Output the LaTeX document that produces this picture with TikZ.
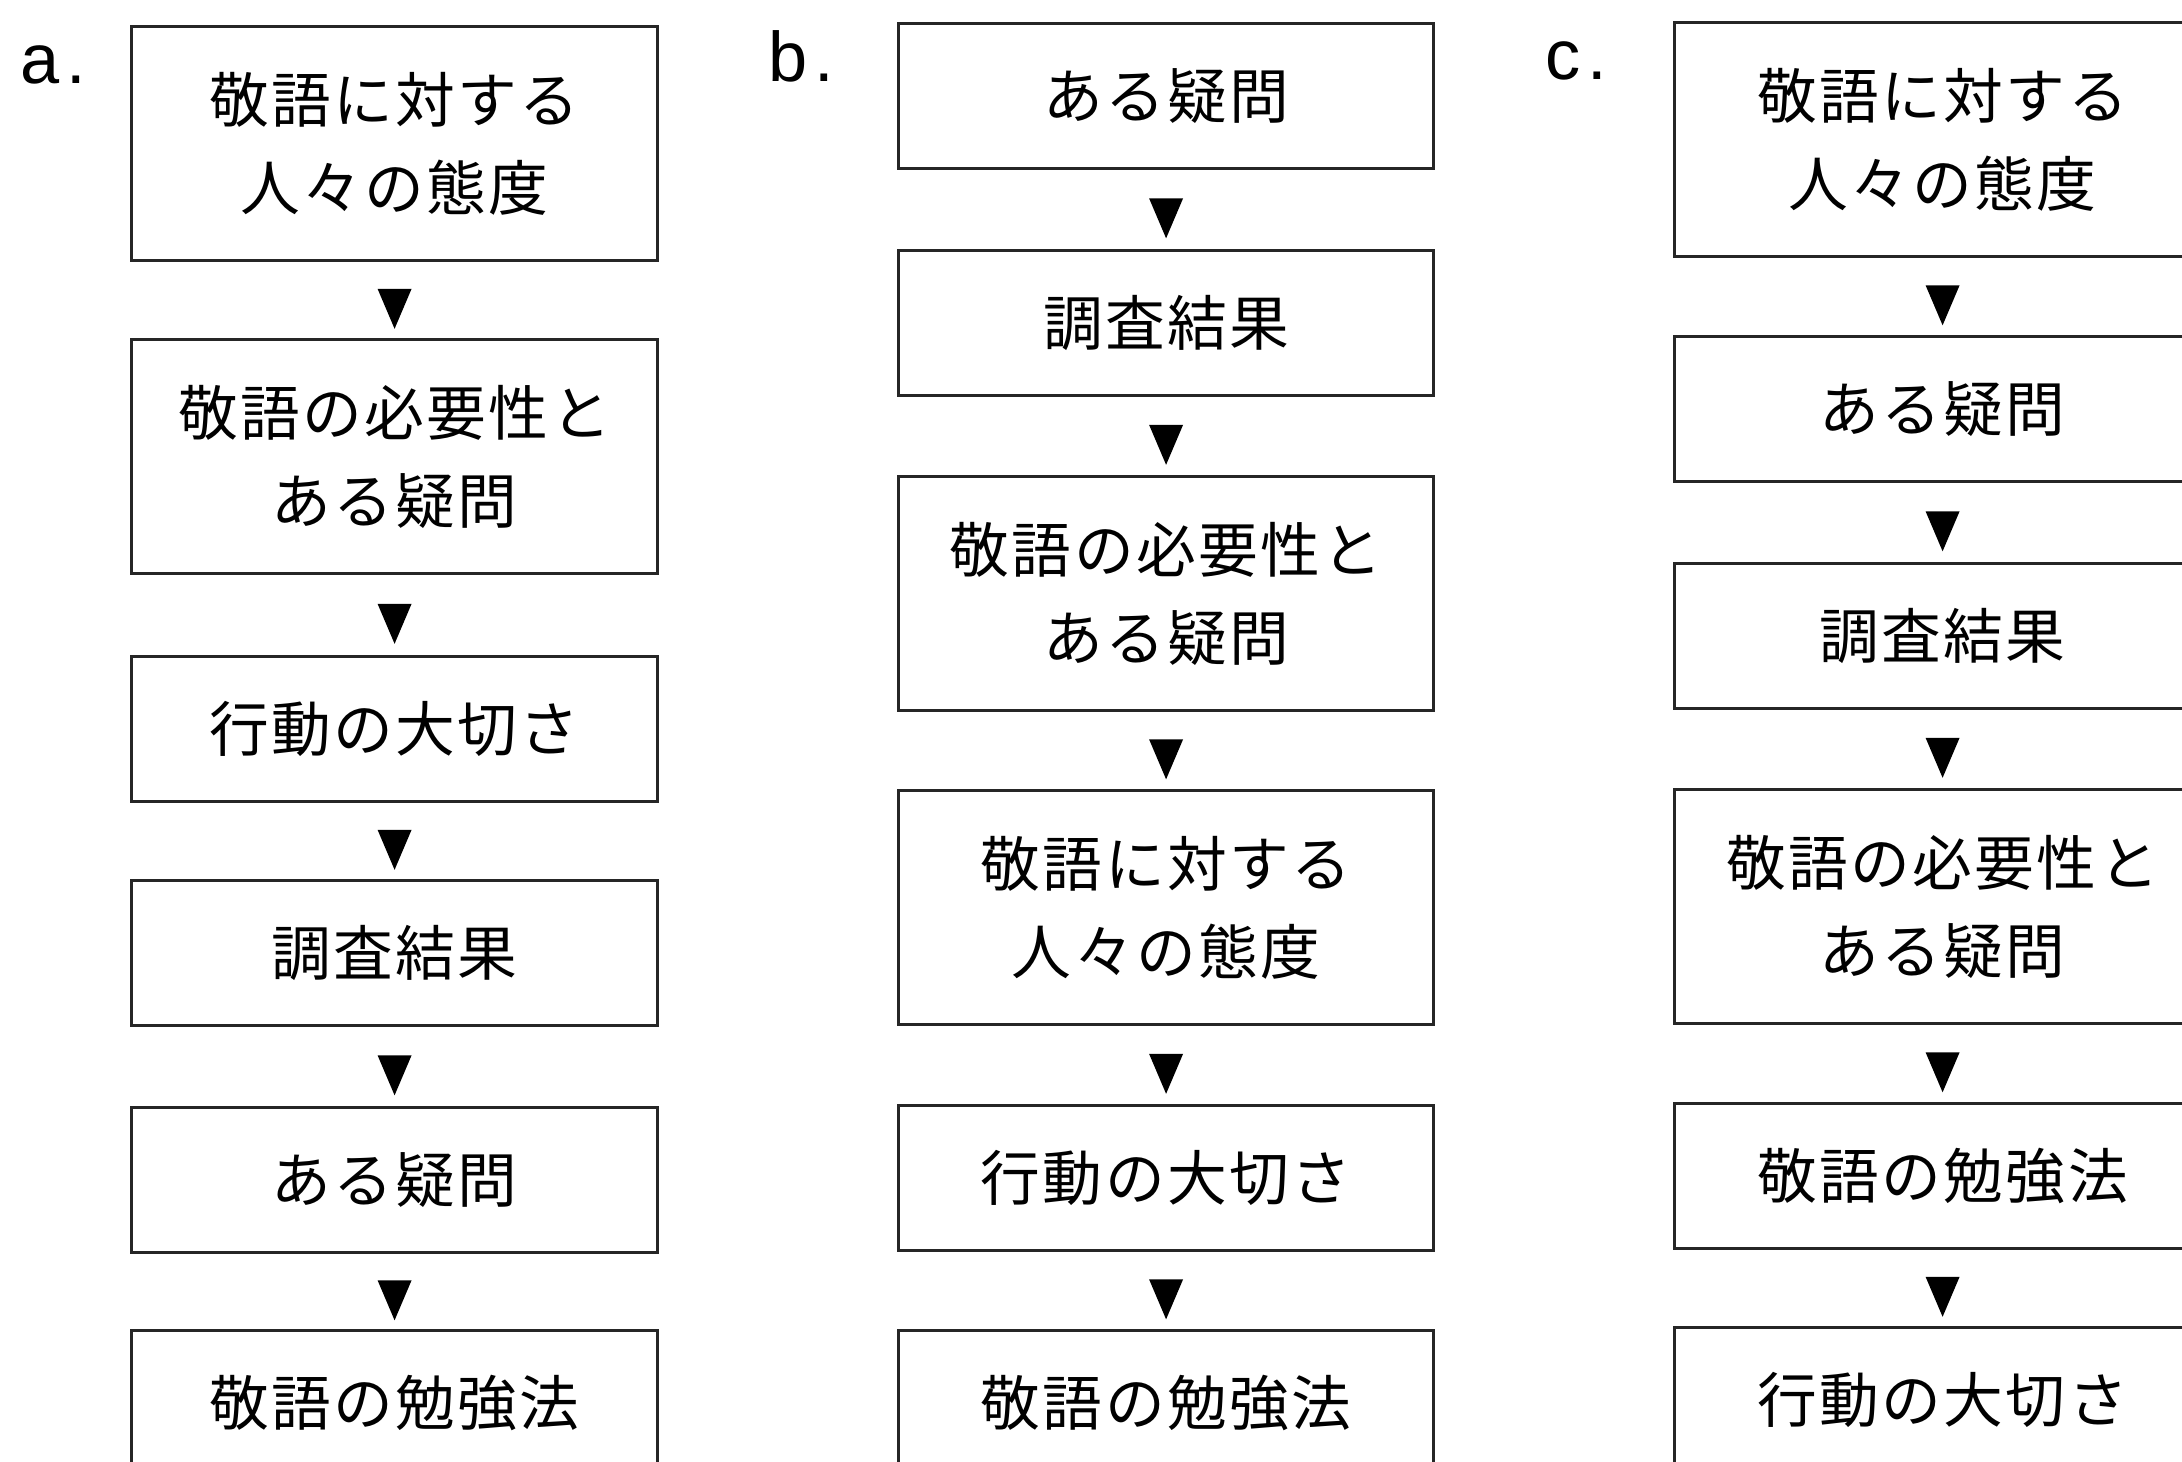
\documentclass[tikz,border=0pt]{standalone}
\usepackage{fontspec}
\newfontfamily\jpfont[LetterSpace=4]{Noto Sans CJK JP}
\newfontfamily\lblfont{Liberation Sans}
\usetikzlibrary{shapes.geometric}
\tikzset{box/.style={draw=black!85,line width=.9pt,anchor=north west,inner sep=0pt,align=center,font=\jpfont\fontsize{17}{25}\selectfont},
  tallbox/.style={box,minimum height=2.34cm},shortbox/.style={box,minimum height=1.45cm},
  tri/.style={isosceles triangle,isosceles triangle stretches,shape border rotate=270,fill=black,inner sep=0pt,minimum width=.34cm,minimum height=.40cm},
  lbl/.style={anchor=base west,inner sep=0pt,font=\lblfont\fontsize{20}{24}\selectfont}}

\begin{document}
\begin{tikzpicture}[x=1cm,y=-1cm]
\clip (0,0) rectangle (21.82,14.62);
\fill[white] (0,0) rectangle (21.82,14.62);
% column a
\node[lbl] (lbla) at (0.20,0.84) {a\kern.1em.};
\node[tallbox,minimum width=5.26cm] (a1) at (1.30,0.25) {敬語に対する\\人々の態度};
\node[tallbox,minimum width=5.26cm] (a2) at (1.30,3.38) {敬語の必要性と\\ある疑問};
\node[shortbox,minimum width=5.26cm] (a3) at (1.30,6.55) {行動の大切さ};
\node[shortbox,minimum width=5.26cm] (a4) at (1.30,8.79) {調査結果};
\node[shortbox,minimum width=5.26cm] (a5) at (1.30,11.06) {ある疑問};
\node[shortbox,minimum width=5.26cm] (a6) at (1.30,13.29) {敬語の勉強法};
\path (a1.south) -- node[tri] {} (a2.north);
\path (a2.south) -- node[tri] {} (a3.north);
\path (a3.south) -- node[tri] {} (a4.north);
\path (a4.south) -- node[tri] {} (a5.north);
\path (a5.south) -- node[tri] {} (a6.north);
% column b
\node[lbl] (lblb) at (7.68,0.82) {b\kern.1em.};
\node[shortbox,minimum width=5.35cm] (b1) at (8.97,0.22) {ある疑問};
\node[shortbox,minimum width=5.35cm] (b2) at (8.97,2.49) {調査結果};
\node[tallbox,minimum width=5.35cm] (b3) at (8.97,4.75) {敬語の必要性と\\ある疑問};
\node[tallbox,minimum width=5.35cm] (b4) at (8.97,7.89) {敬語に対する\\人々の態度};
\node[shortbox,minimum width=5.35cm] (b5) at (8.97,11.04) {行動の大切さ};
\node[shortbox,minimum width=5.35cm] (b6) at (8.97,13.29) {敬語の勉強法};
\path (b1.south) -- node[tri] {} (b2.north);
\path (b2.south) -- node[tri] {} (b3.north);
\path (b3.south) -- node[tri] {} (b4.north);
\path (b4.south) -- node[tri] {} (b5.north);
\path (b5.south) -- node[tri] {} (b6.north);
% column c
\node[lbl] (lblc) at (15.45,0.80) {c\kern.1em.};
\node[tallbox,minimum width=5.36cm] (c1) at (16.73,0.21) {敬語に対する\\人々の態度};
\node[shortbox,minimum width=5.36cm] (c2) at (16.73,3.35) {ある疑問};
\node[shortbox,minimum width=5.36cm] (c3) at (16.73,5.62) {調査結果};
\node[tallbox,minimum width=5.36cm] (c4) at (16.73,7.88) {敬語の必要性と\\ある疑問};
\node[shortbox,minimum width=5.36cm] (c5) at (16.73,11.02) {敬語の勉強法};
\node[shortbox,minimum width=5.36cm] (c6) at (16.73,13.26) {行動の大切さ};
\path (c1.south) -- node[tri] {} (c2.north);
\path (c2.south) -- node[tri] {} (c3.north);
\path (c3.south) -- node[tri] {} (c4.north);
\path (c4.south) -- node[tri] {} (c5.north);
\path (c5.south) -- node[tri] {} (c6.north);
\end{tikzpicture}
\end{document}
